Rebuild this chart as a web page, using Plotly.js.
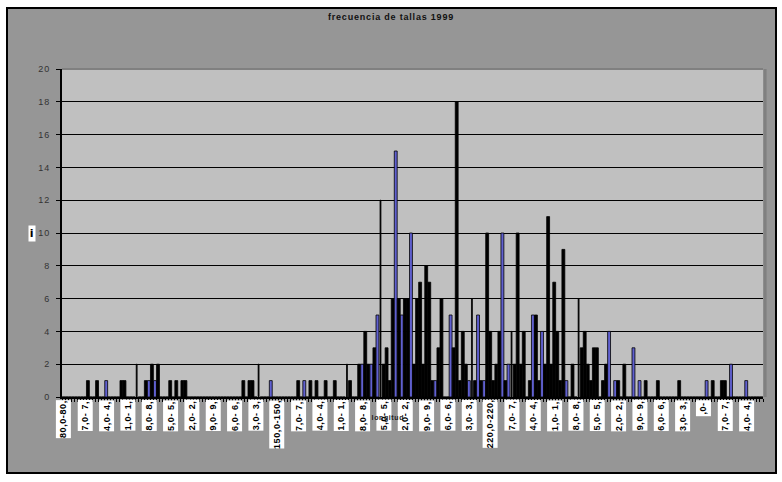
<!DOCTYPE html>
<html>
<head>
<meta charset="utf-8">
<script src="https://cdn.plot.ly/plotly-3.0.1.min.js"></script>
<style>
  html, body { margin: 0; padding: 0; background: #ffffff; }
  #frame { position: absolute; left: 6px; top: 7px; width: 767px; height: 463px; border: 2px solid #000; background: #969696; }
  #chart { position: absolute; left: 0; top: 0; width: 782px; height: 482px; }
  #chart .ytick text { letter-spacing: 1px; }
  #chart .gtitle { letter-spacing: 0.8px; }
  #chart .annotation-text { letter-spacing: 0.6px; }
</style>
</head>
<body>
<div id="frame"></div>
<div id="chart"></div>
<script>
// ---- DATA ----
// size classes (lower bound, cm): 80,0-80,9 ... 309,0-309,9
const categories = [
  80,81,82,83,84,85,86,87,88,89,
  90,91,92,93,94,95,96,97,98,99,
  100,101,102,103,104,105,106,107,108,109,
  110,111,112,113,114,115,116,117,118,119,
  120,121,122,123,124,125,126,127,128,129,
  130,131,132,133,134,135,136,137,138,139,
  140,141,142,143,144,145,146,147,148,149,
  150,151,152,153,154,155,156,157,158,159,
  160,161,162,163,164,165,166,167,168,169,
  170,171,172,173,174,175,176,177,178,179,
  180,181,182,183,184,185,186,187,188,189,
  190,191,192,193,194,195,196,197,198,199,
  200,201,202,203,204,205,206,207,208,209,
  210,211,212,213,214,215,216,217,218,219,
  220,221,222,223,224,225,226,227,228,229,
  230,231,232,233,234,235,236,237,238,239,
  240,241,242,243,244,245,246,247,248,249,
  250,251,252,253,254,255,256,257,258,259,
  260,261,262,263,264,265,266,267,268,269,
  270,271,272,273,274,275,276,277,278,279,
  280,281,282,283,284,285,286,287,288,289,
  290,291,292,293,294,295,296,297,298,299,
  300,301,302,303,304,305,306,307,308,309
];
const frecuencia = [
  0,0,0,0,0,0,0,0,1,0,
  0,1,0,0,1,0,0,0,0,1,
  1,0,0,0,2,0,0,1,1,2,
  1,2,0,0,0,1,0,1,0,1,
  1,0,0,0,0,0,0,0,0,0,
  0,0,0,0,0,0,0,0,0,1,
  0,1,1,0,2,0,0,0,1,0,
  0,0,0,0,0,0,0,1,0,1,
  0,1,0,1,0,0,1,0,0,1,
  0,0,0,2,1,0,0,2,2,4,
  2,2,3,5,12,2,3,1,6,15,
  6,5,6,6,10,2,6,7,2,8,
  7,1,1,3,6,0,0,5,3,18,
  1,4,2,1,6,1,5,1,1,10,
  4,1,2,4,10,1,2,4,2,10,
  2,4,0,1,5,5,1,4,2,11,
  2,7,4,1,9,1,0,2,0,6,
  3,4,2,1,3,3,0,1,2,4,
  0,1,1,0,2,0,0,3,0,1,
  0,1,0,0,0,1,0,0,0,0,
  0,0,1,0,0,0,0,0,0,0,
  0,1,0,1,0,0,1,1,0,2,
  0,0,0,0,1,0,0,0,0,0
];
const tickCats = [80,87,94,101,108,115,122,129,136,143,150,157,164,171,178,185,192,199,206,213,220,227,234,241,248,255,262,269,276,283,290,297,304];
const tickLabels = ["80,0-80,","7,0- 7,","4,0- 4,","1,0- 1,","8,0- 8,","5,0- 5,","2,0- 2,","9,0- 9,","6,0- 6,","3,0- 3,",
  "150,0-150,","7,0- 7,","4,0- 4,","1,0- 1,","8,0- 8,","5,0- 5,","2,0- 2,","9,0- 9,","6,0- 6,","3,0- 3,",
  "220,0-220,","7,0- 7,","4,0- 4,","1,0- 1,","8,0- 8,","5,0- 5,","2,0- 2,","9,0- 9,","6,0- 6,","3,0- 3,",
  ",0-","7,0- 7,","4,0- 4,"];
const chartTitle = "frecuencia de tallas 1999";
const xTitle = "longitud";
const yTitle = "i";

// ---- STYLE ----
const blueAt = [94,108,110,148,159,178,181,183,189,191,194,202,207,213,216,218,224,226,234,237,245,259,261,267,269,291,299,304];
const thinAt = [104,144,173,184,214,227,249];
const BLUE = '#6060D0';
const barColors = categories.map(c => blueAt.includes(c) ? BLUE : '#000000');
const barWidths = categories.map(c => thinAt.includes(c) ? 0.3 : 0.95);

const annotations = tickCats.map((c, k) => ({
  x: c, xref: 'x', y: -0.008, yref: 'paper', yanchor: 'top', xanchor: 'center',
  text: tickLabels[k], textangle: -90, showarrow: false,
  bgcolor: '#ffffff', borderpad: 2,
  font: { family: 'Liberation Sans, Arial, sans-serif', size: 9, color: '#000', weight: 'bold' }
}));
annotations.push({
  x: 0.465, xref: 'paper', y: -0.064, yref: 'paper', yanchor: 'middle', text: xTitle, showarrow: false,
  font: { family: 'Liberation Sans, Arial, sans-serif', size: 7, color: '#222', weight: 'bold' }
});
annotations.push({
  xref: 'paper', x: -0.048, y: 0.5, yref: 'paper', text: yTitle, showarrow: false,
  bgcolor: '#ffffff', borderpad: 1,
  font: { family: 'DejaVu Sans, sans-serif', size: 11, color: '#000', weight: 'bold' }
});

const trace = {
  type: 'bar', x: categories, y: frecuencia,
  width: barWidths,
  marker: { color: barColors, line: { color: '#000', width: 0.8 } },
  hoverinfo: 'x+y'
};

const layout = {
  width: 782, height: 482,
  margin: { l: 62, r: 19, t: 69, b: 85 },
  paper_bgcolor: 'rgba(0,0,0,0)',
  plot_bgcolor: '#C0C0C0',
  showlegend: false,
  bargap: 0,
  title: { text: chartTitle, x: 0.5, xref: 'container', y: 1 - 17/482, yref: 'container', yanchor: 'middle',
    font: { family: 'Liberation Sans, Arial, sans-serif', size: 9, color: '#111', weight: 'bold' } },
  xaxis: {
    type: 'linear', range: [79.5, 309.5], showgrid: false, zeroline: false,
    showline: true, linecolor: '#000', linewidth: 2,
    ticks: 'outside', ticklen: 3, tickcolor: '#000', tickwidth: 1,
    tickmode: 'linear', tick0: 79.5, dtick: 1, showticklabels: false, fixedrange: true
  },
  yaxis: {
    range: [0, 20], dtick: 2, tick0: 0, showgrid: true, gridcolor: '#000', gridwidth: 1,
    zeroline: false, showline: true, linecolor: '#000', linewidth: 2,
    ticks: 'outside', ticklen: 4, tickcolor: '#000', tickwidth: 1,
    tickfont: { family: 'Liberation Sans, Arial, sans-serif', size: 9, color: '#333' },
    ticklabelstandoff: 4, fixedrange: true
  },
  shapes: [
    { type: 'line', xref: 'paper', yref: 'paper', x0: 0, x1: 1, y0: 1, y1: 1, line: { color: '#808080', width: 2 } },
    { type: 'line', xref: 'paper', yref: 'paper', x0: 1.003, x1: 1.003, y0: 0, y1: 1, line: { color: '#808080', width: 3 } }
  ],
  annotations: annotations
};

Plotly.newPlot('chart', [trace], layout, { displayModeBar: false, staticPlot: true });
</script>
</body>
</html>
